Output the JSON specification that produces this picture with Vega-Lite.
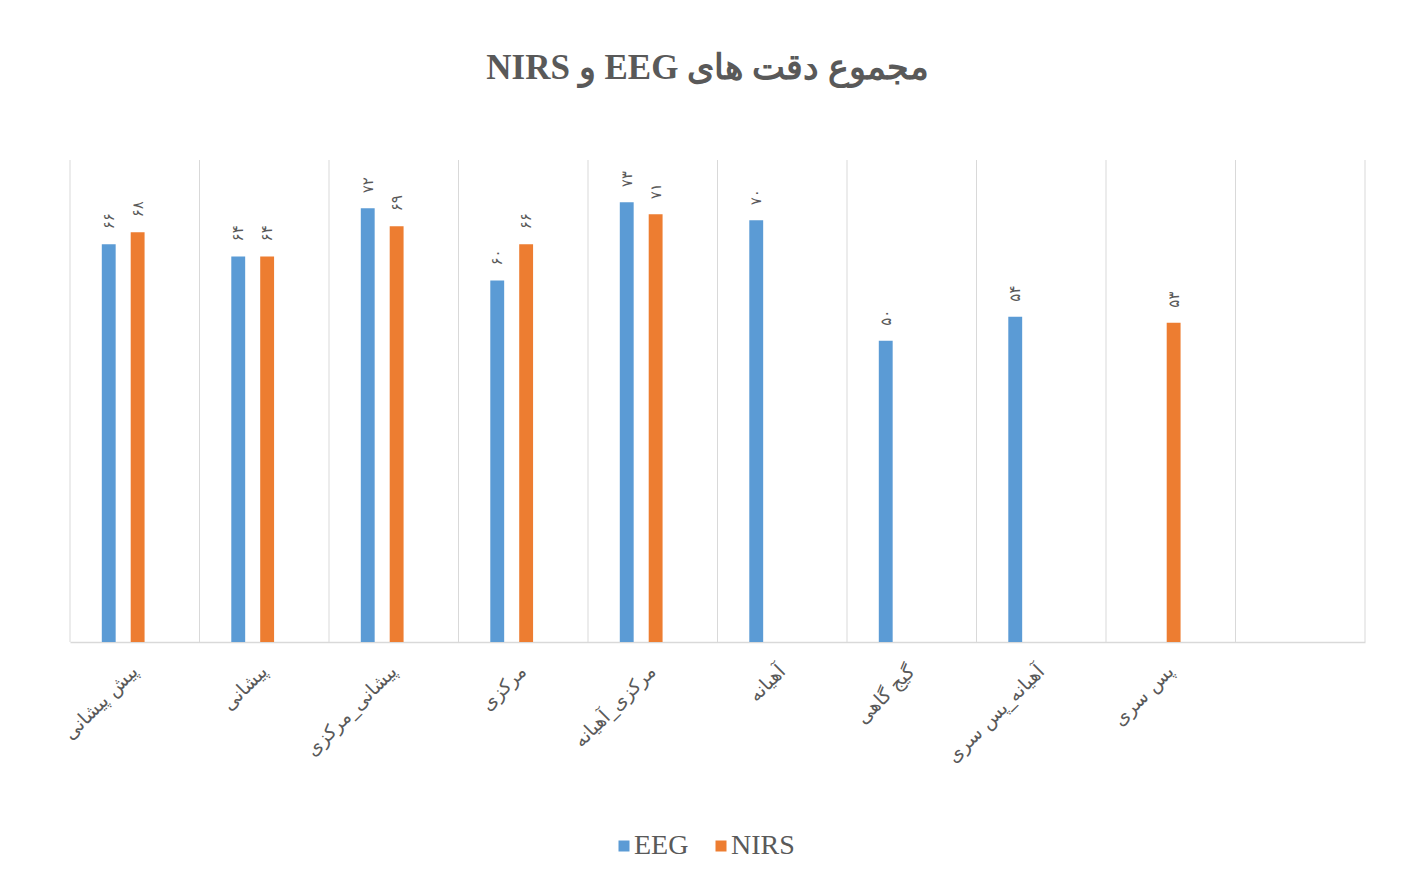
{
  "$schema": "https://vega.github.io/schema/vega-lite/v6.json",
  "width": 1295,
  "height": 482,
  "autosize": {"type": "none"},
  "padding": {"left": 70, "top": 160, "right": 40, "bottom": 239},
  "background": "white",
  "title": {
    "text": "\u202bمجموع دقت های EEG و NIRS\u202c",
    "font": "Liberation Serif",
    "fontSize": 35,
    "fontWeight": "bold",
    "color": "#595959",
    "anchor": "middle",
    "offset": 74,
    "dx": -10
  },
  "data": {
    "values": [
      {"region": "پیش پیشانی", "series": "EEG", "value": 66},
      {"region": "پیش پیشانی", "series": "NIRS", "value": 68},
      {"region": "پیشانی", "series": "EEG", "value": 64},
      {"region": "پیشانی", "series": "NIRS", "value": 64},
      {"region": "پیشانی_مرکزی", "series": "EEG", "value": 72},
      {"region": "پیشانی_مرکزی", "series": "NIRS", "value": 69},
      {"region": "مرکزی", "series": "EEG", "value": 60},
      {"region": "مرکزی", "series": "NIRS", "value": 66},
      {"region": "مرکزی_آهیانه", "series": "EEG", "value": 73},
      {"region": "مرکزی_آهیانه", "series": "NIRS", "value": 71},
      {"region": "آهیانه", "series": "EEG", "value": 70},
      {"region": "گیج گاهی", "series": "EEG", "value": 50},
      {"region": "آهیانه_پس سری", "series": "EEG", "value": 54},
      {"region": "پس سری", "series": "NIRS", "value": 53}
    ]
  },
  "layer": [
    {
      "data": {"values": [
        {"region": "پیش پیشانی"}, {"region": "پیشانی"}, {"region": "پیشانی_مرکزی"}, {"region": "مرکزی"},
        {"region": "مرکزی_آهیانه"}, {"region": "آهیانه"}, {"region": "گیج گاهی"}, {"region": "آهیانه_پس سری"},
        {"region": "پس سری"}, {"region": " "}
      ]},
      "mark": {"type": "rule", "color": "#d9d9d9", "strokeWidth": 1},
      "encoding": {
        "x": {"field": "region", "type": "nominal", "bandPosition": 0}
      }
    },
    {
      "data": {"values": [{"region": " "}]},
      "mark": {"type": "rule", "color": "#d9d9d9", "strokeWidth": 1},
      "encoding": {
        "x": {"field": "region", "type": "nominal", "bandPosition": 1}
      }
    },
    {
      "mark": {"type": "bar"},
      "encoding": {
        "x": {
          "field": "region",
          "type": "nominal",
          "sort": null,
          "scale": {
            "domain": ["پیش پیشانی", "پیشانی", "پیشانی_مرکزی", "مرکزی", "مرکزی_آهیانه", "آهیانه", "گیج گاهی", "آهیانه_پس سری", "پس سری", " "],
            "paddingInner": 0,
            "paddingOuter": 0
          },
          "axis": {
            "title": null,
            "labelAngle": -45,
            "labelAlign": "right",
            "labelBaseline": "middle",
            "labelPadding": 26,
            "labelFont": "DejaVu Sans",
            "labelFontSize": 19,
            "labelColor": "#595959",
            "labelLimit": 0,
            "ticks": false,
            "grid": false,
            "domainColor": "#d9d9d9",
            "domainWidth": 1.5
          }
        },
        "xOffset": {
          "field": "series",
          "type": "nominal",
          "scale": {"domain": ["EEG", "NIRS", "_"], "paddingInner": 0.52, "paddingOuter": 1.16, "align": 0.55}
        },
        "y": {"field": "value", "type": "quantitative", "scale": {"domain": [0, 80]}, "axis": null},
        "color": {
          "field": "series",
          "type": "nominal",
          "scale": {"domain": ["EEG", "NIRS"], "range": ["#5B9BD5", "#ED7D31"]},
          "legend": {
            "title": null,
            "orient": "none",
            "legendX": 540,
            "legendY": 672,
            "direction": "horizontal",
            "symbolType": "square",
            "symbolSize": 121,
            "symbolStrokeWidth": 0,
            "labelFont": "Liberation Serif",
            "labelFontSize": 28,
            "labelColor": "#595959",
            "labelOffset": -4,
            "columnPadding": 18
          }
        }
      }
    },
    {
      "mark": {"type": "text", "angle": 270, "align": "left", "baseline": "middle", "dx": 15, "font": "DejaVu Sans", "fontSize": 15, "color": "#595959"},
      "encoding": {
        "x": {"field": "region", "type": "nominal"},
        "xOffset": {"field": "series", "type": "nominal"},
        "y": {"field": "value", "type": "quantitative"},
        "text": {"field": "value", "type": "quantitative", "format": "d"}
      }
    }
  ],
  "config": {
    "view": {"stroke": null},
    "locale": {
      "number": {
        "decimal": "٫",
        "thousands": "٬",
        "grouping": [3],
        "currency": ["", ""],
        "numerals": ["۰", "۱", "۲", "۳", "۴", "۵", "۶", "۷", "۸", "۹"]
      }
    }
  }
}
